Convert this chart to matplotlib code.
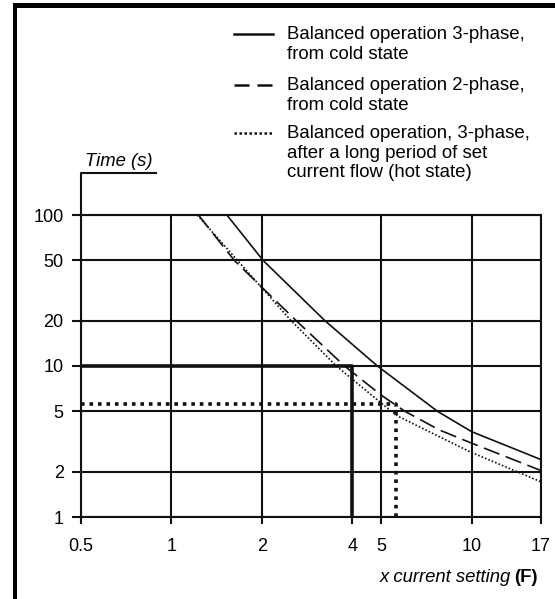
import numpy as np
import matplotlib.pyplot as plt
from matplotlib.lines import Line2D
from matplotlib.patches import Rectangle

plt.rcParams['font.family'] = ['Liberation Sans', 'DejaVu Sans']
plt.rcParams['font.size'] = 13

# trip curves (x = multiple of current setting, y = time in s)
x_cold3 = [1.53, 2.02, 3.24, 4.85, 7.7, 10, 17]
y_cold3 = [100, 50, 20, 10, 5, 3.67, 2.4]
x_cold2 = [1.23, 1.62, 2.6, 3.77, 5, 6.0, 7.8, 10, 17]
y_cold2 = [100, 50, 20, 10, 6.4, 5, 3.77, 3.08, 2.03]
x_hot3 = [1.22, 1.66, 2.5, 3.54, 5.4, 5.74, 7.8, 10, 17]
y_hot3 = [100, 50, 20, 10, 5, 4.6, 3.4, 2.67, 1.71]

labels = ["Balanced operation 3-phase,\nfrom cold state",
          "Balanced operation 2-phase,\nfrom cold state",
          "Balanced operation, 3-phase,\nafter a long period of set\ncurrent flow (hot state)"]

x_ticks = [0.5, 1, 2, 4, 5, 10, 17]
x_grid = [0.5, 1, 2, 5, 10, 17]
y_ticks = [1, 2, 5, 10, 20, 50, 100]

# example reading points
ex1_x, ex1_y = 4, 10
ex2_x, ex2_y = 5.6, 5.6

W, H = 555, 599
fig = plt.figure(figsize=(W / 100, H / 100), dpi=100)
ax = fig.add_axes([81 / W, 1 - 517 / H, 460 / W, 302 / H])
ax.set_xscale('log')
ax.set_yscale('log')
ax.set_xlim(0.5, 17)
ax.set_ylim(1, 100)

for gx in x_grid:
    ax.axvline(gx, color='#111111', lw=1.5, zorder=1)
for gy in y_ticks:
    ax.axhline(gy, color='#111111', lw=1.5, zorder=1)

ax.set_xticks(x_ticks)
ax.set_xticklabels([str(v) for v in x_ticks])
ax.set_yticks(y_ticks)
ax.set_yticklabels([str(v) for v in y_ticks])
ax.minorticks_off()
ax.tick_params(axis='y', length=6.5, width=1.5, pad=6, color='#111111')
ax.tick_params(axis='x', length=5, width=1.5, pad=10, color='#111111')
for s in ax.spines.values():
    s.set_linewidth(1.5)
    s.set_color('#111111')

styles = [dict(color='#111111', lw=1.2, ls='-'),
          dict(color='#111111', lw=1.2, ls=(0, (10, 4))),
          dict(color='#111111', lw=1.2, ls=(0, (1, 1.2)))]
key_ls = ['-', (0, (6, 3.2)), (0, (1, 1))]

ax.plot(x_cold3, y_cold3, **styles[0], zorder=3)
ax.plot(x_cold2, y_cold2, **styles[1], zorder=3)
ax.plot(x_hot3, y_hot3, **styles[2], zorder=3)

# reading lines
ax.plot([0.5, ex1_x, ex1_x], [ex1_y, ex1_y, 1], color='#111111', lw=2.6,
        solid_capstyle='butt', zorder=4, clip_on=False)
ax.plot([0.5, ex2_x, ex2_x], [ex2_y, ex2_y, 1], color='#111111', lw=2.6,
        ls=(0, (1, 1.35)), dash_capstyle='butt', zorder=4, clip_on=False)

# y-axis bracket and title
ax.plot([0, 0, 0.163], [1, 1.139, 1.139], transform=ax.transAxes,
        color='#111111', lw=1.5, clip_on=False)
fig.text(85 / W, 1 - 161 / H, "Time (s)", style='italic', va='center', ha='left',
         fontsize=13.3)

# x label: italic part + bold part
tb = fig.text(538 / W, 1 - 577 / H, "(F)", fontweight='bold', ha='right', va='center',
              fontsize=13.3)
fig.canvas.draw()
bw = tb.get_window_extent().width
fig.text((538 - bw - 4) / W, 1 - 577 / H, "x current setting", style='italic',
         ha='right', va='center', fontsize=13.3)

# legend drawn by hand so the key sits on the first text line
leg_y = [34, 85, 133]
for st, kls, lab, yy in zip(styles, key_ls, labels, leg_y):
    fig.add_artist(Line2D([234 / W, 273 / W], [1 - yy / H, 1 - yy / H],
                          transform=fig.transFigure, color=st['color'],
                          lw=1.8, ls=kls, dash_capstyle='butt'))
    fig.text(287 / W, 1 - (yy - 8) / H, lab, ha='left', va='top',
             linespacing=1.2, fontsize=13.4)

# page frame (top and left bars)
fig.add_artist(Rectangle((13 / W, 1 - 8 / H), 1 - 13 / W, 5 / H,
                         transform=fig.transFigure, color='black', lw=0))
fig.add_artist(Rectangle((13 / W, 0), 4 / W, 1 - 3 / H,
                         transform=fig.transFigure, color='black', lw=0))

fig.savefig('out.png', dpi=100)
